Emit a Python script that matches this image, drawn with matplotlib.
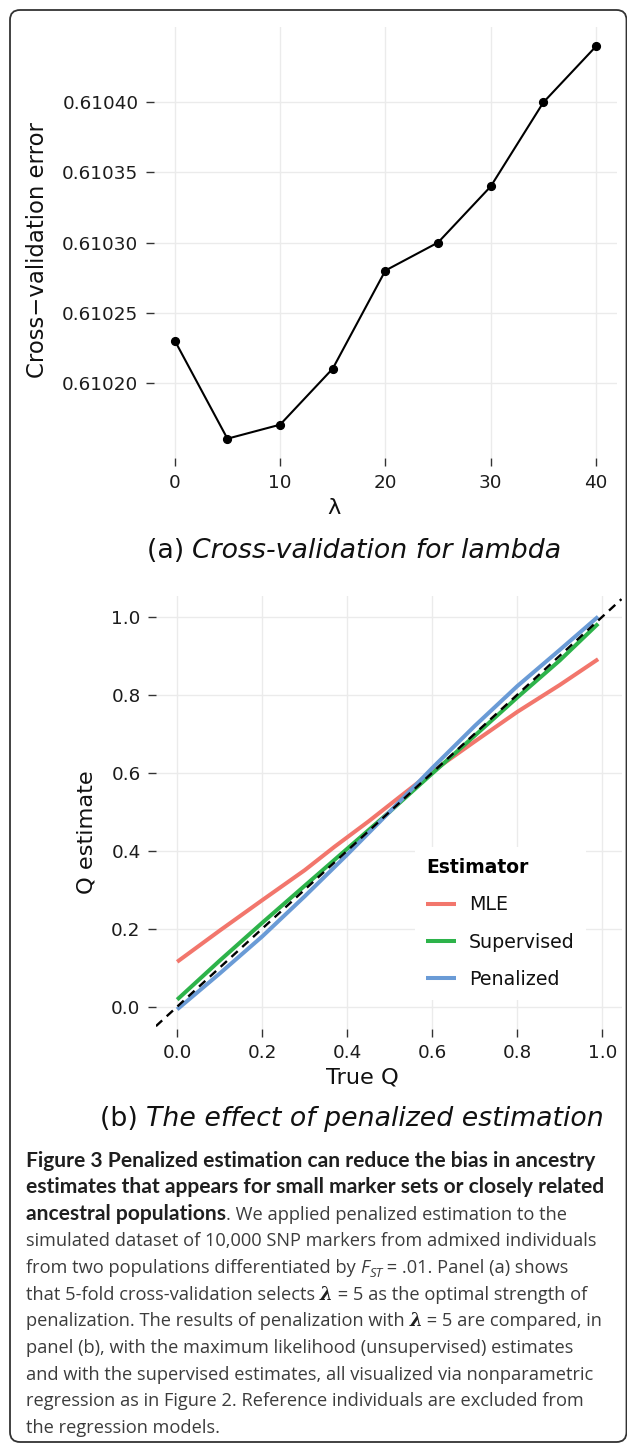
import matplotlib
matplotlib.use("Agg")
import matplotlib.pyplot as plt
from matplotlib.patches import FancyBboxPatch
from matplotlib.transforms import IdentityTransform
from matplotlib.ticker import FormatStrFormatter

# ---------------- data ----------------
lambdas = [0, 5, 10, 15, 20, 25, 30, 35, 40]
cv_error = [0.61023, 0.61016, 0.61017, 0.61021, 0.61028, 0.61030, 0.61034, 0.61040, 0.61044]
a_xticks = [0, 10, 20, 30, 40]
a_yticks = [0.61020, 0.61025, 0.61030, 0.61035, 0.61040]

mle_q = [0.0, 0.1, 0.2, 0.3, 0.37, 0.45, 0.52, 0.6, 0.7, 0.8, 0.9, 0.99]
mle_est = [0.115, 0.195, 0.273, 0.350, 0.410, 0.475, 0.535, 0.603, 0.680, 0.756, 0.825, 0.891]
sup_q = [0.0, 0.1, 0.2, 0.3, 0.4, 0.5, 0.6, 0.7, 0.8, 0.9, 0.99]
sup_est = [0.018, 0.118, 0.215, 0.310, 0.405, 0.500, 0.598, 0.695, 0.793, 0.888, 0.982]
pen_q = [0.0, 0.1, 0.2, 0.3, 0.4, 0.5, 0.6, 0.7, 0.8, 0.9, 0.99]
pen_est = [-0.007, 0.085, 0.180, 0.283, 0.390, 0.500, 0.612, 0.720, 0.822, 0.915, 1.000]
estimators = ["MLE", "Supervised", "Penalized"]
est_colors = ["#F2766C", "#2DB34A", "#6A9BD6"]
b_ticks = [0.0, 0.2, 0.4, 0.6, 0.8, 1.0]

# ---------------- figure ----------------
W, H = 627, 1444
fig = plt.figure(figsize=(W / 100, H / 100), dpi=100)
fig.patch.set_facecolor("white")
renderer = fig.canvas.get_renderer()

def fx(x):
    return x / W

def fy(y):
    return 1 - y / H

def add_axes_px(l, t, r, b):
    return fig.add_axes([l / W, 1 - b / H, (r - l) / W, (b - t) / H])

TICK_SIZE = 13.2
TICK_COLOR = "#1c1c1c"
GRID = "#EBEBEB"

def style_axes(ax):
    ax.set_facecolor("white")
    for s in ax.spines.values():
        s.set_visible(False)
    ax.grid(True, color=GRID, lw=1.0)
    ax.set_axisbelow(True)
    ax.tick_params(length=6, width=1.0, color="#333333", labelsize=TICK_SIZE,
                   labelcolor=TICK_COLOR, pad=5)

# frame
frame = FancyBboxPatch((10, H - 1442), 616.5, 1432,
                       boxstyle="round,pad=0,rounding_size=10",
                       transform=IdentityTransform(), fill=False,
                       ec="#333333", lw=1.3)
fig.add_artist(frame)

# ---------------- panel (a) ----------------
ax1 = add_axes_px(153.7, 26.7, 617.1, 458.3)
style_axes(ax1)
ax1.plot(lambdas, cv_error, "-o", color="black", lw=1.5, ms=5.6, zorder=3)
ax1.set_xlim(-2, 42)
ax1.set_ylim(0.610146, 0.610454)
ax1.set_xticks(a_xticks)
ax1.set_yticks(a_yticks)
ax1.yaxis.set_major_formatter(FormatStrFormatter("%.5f"))

fig.text(fx(38), fy(250), "Cross\u2212validation error", rotation=90,
         ha="center", va="center", fontsize=16.4, color="#111111")
fig.text(fx(334), fy(508), "\u03bb", ha="center", va="center",
         fontsize=16.2, color="#111111")

# ---------------- panel (b) ----------------
ax2 = add_axes_px(155.9, 596, 621.5, 1028.9)
style_axes(ax2)
handles = []
for q, est, name, c in zip([mle_q, sup_q, pen_q], [mle_est, sup_est, pen_est],
                           estimators, est_colors):
    h, = ax2.plot(q, est, color=c, lw=2.9, label=name, solid_capstyle="butt", zorder=3)
    handles.append(h)
ax2.axline((0, 0), (1, 1), color="black", lw=1.7, ls=(0, (3.6, 2.6)), zorder=4)
ax2.set_xlim(-0.05, 1.045)
ax2.set_ylim(-0.057, 1.053)
ax2.set_xticks(b_ticks)
ax2.set_yticks(b_ticks)
ax2.xaxis.set_major_formatter(FormatStrFormatter("%.1f"))
ax2.yaxis.set_major_formatter(FormatStrFormatter("%.1f"))

fig.text(fx(86), fy(832), "Q estimate", rotation=90, ha="center", va="center",
         fontsize=16.2, color="#111111")
fig.text(fx(362), fy(1078), "True Q", ha="center", va="center",
         fontsize=16.2, color="#111111")

leg = ax2.legend(handles=handles, title="Estimator", loc="upper left",
                 bbox_to_anchor=(fx(415), fy(847)), bbox_transform=fig.transFigure,
                 frameon=True, fancybox=False, facecolor="white", edgecolor="none",
                 framealpha=1.0, fontsize=13.7,
                 title_fontproperties={"weight": "bold", "size": 13.5},
                 alignment="left", handlelength=1.55, handletextpad=0.7,
                 borderpad=0.6, labelspacing=0.95, borderaxespad=0)
for t in leg.get_texts():
    t.set_color("#111111")
leg.set_zorder(5)

# ---------------- helper for mixed-style text runs ----------------
def run_width(s, kw):
    t = fig.text(0, 0, "I" + s + "I", **kw)
    w1 = t.get_window_extent(renderer).width
    t.remove()
    t = fig.text(0, 0, "II", **kw)
    w0 = t.get_window_extent(renderer).width
    t.remove()
    return w1 - w0

def draw_runs(x, y, runs, center=False):
    if center:
        total = sum(run_width(r[0], r[1]) for r in runs)
        x = x - total / 2
    for r in runs:
        s, kw = r[0], r[1]
        dy = r[2] if len(r) > 2 else 0
        fig.text(fx(x), fy(y + dy), s, ha="left", va="baseline", **kw)
        x += run_width(s, kw)

# panel captions
PC = dict(family="DejaVu Sans", size=19.3, color="#111111")
PCI = dict(PC, style="italic")
draw_runs(354, 558, [("(a) ", PC), ("Cross-validation for lambda", PCI)], center=True)
draw_runs(352, 1126, [("(b) ", PC), ("The effect of penalized estimation", PCI)], center=True)

# ---------------- figure caption ----------------
fam_r = ["Open Sans", "DejaVu Sans"]
fam_b = ["Lato", "DejaVu Sans"]
bold_lines = ["Figure 3 Penalized estimation can reduce the bias in ancestry",
              "estimates that appears for small marker sets or closely related"]
bold_targets = [590, 582]
cs = 14 * 574 / run_width("simulated dataset of 10,000 SNP markers from admixed individuals",
                          dict(family=fam_r, size=14))
cb = min(14 * t / run_width(s, dict(family=fam_b, size=14, weight="bold"))
         for s, t in zip(bold_lines, bold_targets))
B = dict(family=fam_b, weight="bold", color="#1f1f1f", size=cb)
R = dict(family=fam_r, color="#3c3c3c", size=cs)
I = dict(R, style="italic")
SUB = dict(I, size=cs * 0.72)
LAM = dict(family=["DejaVu Serif"], style="italic", weight="bold", color="#1f1f1f", size=cs)

caption_lines = [
    [(bold_lines[0], B)],
    [(bold_lines[1], B)],
    [("ancestral populations", B), (". We applied penalized estimation to the", R)],
    [("simulated dataset of 10,000 SNP markers from admixed individuals", R)],
    [("from two populations differentiated by ", R), ("F", I), ("ST", SUB, 4),
     (" = .01. Panel (a) shows", R)],
    [("that 5-fold cross-validation selects ", R), ("\u03bb", LAM),
     (" = 5 as the optimal strength of", R)],
    [("penalization. The results of penalization with ", R), ("\u03bb", LAM),
     (" = 5 are compared, in", R)],
    [("panel (b), with the maximum likelihood (unsupervised) estimates", R)],
    [("and with the supervised estimates, all visualized via nonparametric", R)],
    [("regression as in Figure 2. Reference individuals are excluded from", R)],
    [("the regression models.", R)],
]
y0 = 1166.7
for i, runs in enumerate(caption_lines):
    draw_runs(26, y0 + i * 26.6, runs)

fig.savefig("out.png", dpi=100, facecolor="white")
